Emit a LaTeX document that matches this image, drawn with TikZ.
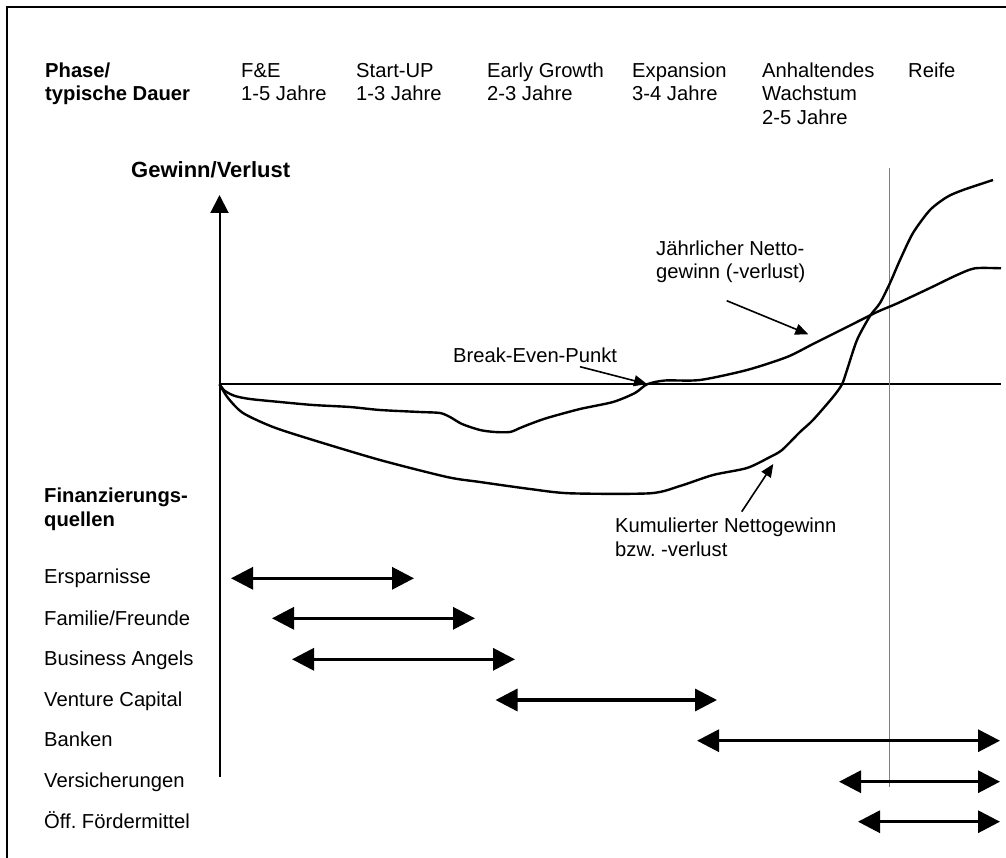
\documentclass[tikz,border=0pt]{standalone}
\usepackage{fontspec}
\setmainfont{Liberation Sans}
\usetikzlibrary{arrows.meta}
\begin{document}
\frenchspacing
\begin{tikzpicture}[x=1pt,y=-1pt,
  % multi-line labels are placed by the baseline of their last line
  lbl/.style={anchor=base west, inner sep=0pt, align=left,
    font=\fontsize{20.2}{23.5}\selectfont},
  hdr/.style={lbl, font=\bfseries\fontsize{20.2}{23.5}\selectfont},
  curve/.style={line width=2.4pt, line join=round},
  axis/.style={line width=2pt},
  span/.style={line width=3.3pt,
    {Triangle[length=22pt,width=22pt]}-{Triangle[length=22pt,width=22pt]}},
  note/.style={line width=1.6pt, -{Triangle[length=13pt,width=11pt]}},
]
\useasboundingbox (0,0) rectangle (1006,858);
% frame
\draw[line width=2pt] (7,858) -- (7,7) -- (1006,7);

% phase header
\node[hdr] (phase) at (45,101) {Phase/\\typische Dauer};
\node[lbl] (fe)   at (241,101) {F\&E\\1-5 Jahre};
\node[lbl] (start) at (356,101) {Start-UP\\1-3 Jahre};
\node[lbl] (early) at (487,101) {Early Growth\\2-3 Jahre};
\node[lbl] (expa) at (632,101) {Expansion\\3-4 Jahre};
\node[lbl] (anh)  at (762,124.5) {Anhaltendes\\Wachstum\\2-5 Jahre};
\node[lbl] (reife) at (908,77.5) {Reife};

% axes
\node[anchor=base west, inner sep=0pt, font=\bfseries\fontsize{22}{26}\selectfont]
  (gv) at (131,178) {Gewinn/Verlust};
\coordinate (o) at (219.5,384.3);
\coordinate (ytop) at (219.5,195);
\coordinate (ybot) at (219.5,777);
\coordinate (xend) at (1001,384.3);
\draw[axis, -{Triangle[length=18pt,width=18pt]}] (ybot) -- (ytop);
\draw[axis] (o) -- (xend);
\coordinate (gtop) at (889.3,168);
\coordinate (gbot) at (889.3,787);
\draw[gray, line width=1pt] (gtop) -- (gbot);

% annual net profit
\draw[curve] plot[smooth, tension=0.45] coordinates {
  (o) (225,391) (235,396) (250,399) (280,402) (313,405) (350,407)
  (380,410) (420,412) (440,413) (450,417) (462,424) (480,430)
  (495,432) (510,432) (520,428) (530,424) (547,418) (580,409)
  (613,402) (635,393) (647,384.3) (665,380.5) (700,380) (747,370)
  (787,357) (813,344) (847,327) (877,312) (897,303.5) (930,288)
  (957,275) (975,268.3) (1001,268.3)};

% cumulative net profit
\draw[curve] plot[smooth, tension=0.45] coordinates {
  (o) (228,398) (243,413) (273,427) (313,440) (380,460) (447,477)
  (480,482) (530,489) (570,493.3) (650,493.3) (680,486) (713,475)
  (747,468) (770,457) (782,450) (800,432) (813,420) (833,397)
  (842,384.3) (847,370) (857,340) (870,316) (880,303) (890,283)
  (900,260) (913,233) (930,210) (947,197) (963,190) (993,180)};

% annotations
\node[lbl] (be) at (453,362) {Break-Even-Punkt};
\coordinate (beTail) at (580,366.7);
\coordinate (beTip) at (647,384);
\draw[note] (beTail) -- (beTip);

\node[lbl, font=\fontsize{20.2}{22.5}\selectfont] (jn) at (656,278.5) {Jährlicher Netto-\\gewinn (-verlust)};
\coordinate (jnTail) at (726.7,300.7);
\coordinate (jnTip) at (808.3,334.3);
\draw[note] (jnTail) -- (jnTip);

\node[lbl, font=\fontsize{20.2}{24}\selectfont] (kn) at (615,556) {Kumulierter Nettogewinn\\bzw. -verlust};
\coordinate (knTail) at (741.7,511.7);
\coordinate (knTip) at (773.3,464);
\draw[note] (knTail) -- (knTip);

% financing sources
\node[hdr] (fq) at (44,526) {Finanzierungs-\\quellen};
\node[lbl] (ers) at (44,583.3) {Ersparnisse};
\node[lbl] (fam) at (44,625) {Familie/Freunde};
\node[lbl] (ba)  at (44,665.5) {Business Angels};
\node[lbl] (vc)  at (44,706) {Venture Capital};
\node[lbl] (bk)  at (44,746.7) {Banken};
\node[lbl] (vs)  at (44,787.7) {Versicherungen};
\node[lbl] (of)  at (44,828.3) {Öff. Fördermittel};

\coordinate (ersL) at (231,578.3); \coordinate (ersR) at (414,578.3);
\coordinate (famL) at (272,618.3); \coordinate (famR) at (475,618.3);
\coordinate (baL)  at (292,659.3); \coordinate (baR)  at (515,659.3);
\coordinate (vcL)  at (495.5,700); \coordinate (vcR)  at (717,700);
\coordinate (bkL)  at (697,740.7); \coordinate (bkR)  at (1000,740.7);
\coordinate (vsL)  at (839,781.7); \coordinate (vsR)  at (1000,781.7);
\coordinate (ofL)  at (858,821.7); \coordinate (ofR)  at (1000,821.7);
\draw[span] (ersL) -- (ersR);
\draw[span] (famL) -- (famR);
\draw[span] (baL) -- (baR);
\draw[span] (vcL) -- (vcR);
\draw[span] (bkL) -- (bkR);
\draw[span] (vsL) -- (vsR);
\draw[span] (ofL) -- (ofR);
\end{tikzpicture}
\end{document}
